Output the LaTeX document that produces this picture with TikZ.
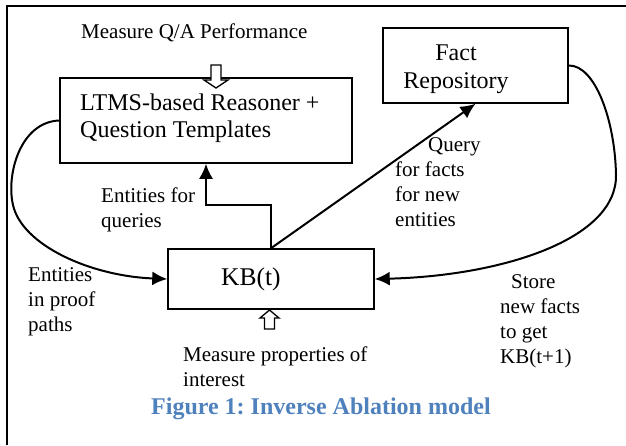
\documentclass[tikz,border=0pt]{standalone}
\usepackage{fontspec}
\setmainfont{Liberation Serif}
\usetikzlibrary{arrows.meta}
\definecolor{capblue}{HTML}{4F81BD}
\frenchspacing
\begin{document}
\begin{tikzpicture}[x=1pt,y=-1pt,
  box/.style={draw, line width=1.5pt, inner sep=0pt},
  lbl/.style={font=\fontsize{21}{24.7}\selectfont, align=left, anchor=base west, inner sep=0pt},
  biglbl/.style={font=\fontsize{24}{27}\selectfont, align=left, anchor=base west, inner sep=0pt},
  conn/.style={line width=2pt, -{Latex[length=15pt,width=14pt]}},
  hollow/.style={draw, line width=1.3pt, fill=white, line join=miter}]
\useasboundingbox (0,0) rectangle (626,445);
% frame
\draw[line width=2pt] (6.5,445) -- (6.5,6) -- (626,6);
% boxes
\node[box, minimum width=292pt, minimum height=85pt] (ltms) at (206,120.5) {};
\node[box, minimum width=185pt, minimum height=75pt] (fact) at (475.5,65.5) {};
\node[box, minimum width=206pt, minimum height=60pt] (kb) at (271,279) {};
% texts (base anchor = baseline of last line)
\node[lbl] (mqa) at (81,38.3) {Measure Q/A Performance};
\node[biglbl] (ltmst) at (80,137.7) {LTMS-based Reasoner +\\Question Templates};
\node[font=\fontsize{24}{28}\selectfont, align=center, anchor=base, inner sep=0pt] (factt) at (456,88) {Fact\\Repository};
\node[font=\fontsize{25.5}{30}\selectfont, anchor=base west, inner sep=0pt] (kbt) at (221,285) {KB(t)};
\node[lbl] (efq) at (101,227) {Entities for\\queries};
\node[lbl] (qry) at (395,226) {\hspace*{33pt}Query\\for facts\\for new\\entities};
\node[lbl] (eip) at (28,331) {Entities\\in proof\\paths};
\node[lbl] (stn) at (500,363) {\hspace*{11pt}Store\\new facts\\to get\\KB(t+1)};
\node[lbl] (mpi) at (183,386) {Measure properties of\\interest};
\node[font=\fontsize{24}{28}\selectfont\bfseries, text=capblue, anchor=base west, inner sep=0pt] (cap) at (151,414) {Figure 1: Inverse Ablation model};
% connectors
\draw[conn] (kb.north) -- ++(0,-43) -| (ltms.south);
\draw[conn] (kb.north) -- (fact.south);
\draw[conn] (ltms.west) .. controls (20,122) and (6,175) .. (13,205)
  .. controls (22,245) and (90,276) .. (kb.west);
\draw[conn] (fact.east) .. controls (595,65) and (615,120) .. (616,175)
  .. controls (617,240) and (500,276) .. (kb.east);
% hollow arrows
\draw[hollow] (211,65) -- (221,65) -- (221,80) -- (228,80) -- (216,88) -- (204,80) -- (211,80) -- cycle;
\draw[hollow] (269.5,310) -- (279,318) -- (274.5,318) -- (274.5,329) -- (264.5,329) -- (264.5,318) -- (260,318) -- cycle;
\end{tikzpicture}
\end{document}
